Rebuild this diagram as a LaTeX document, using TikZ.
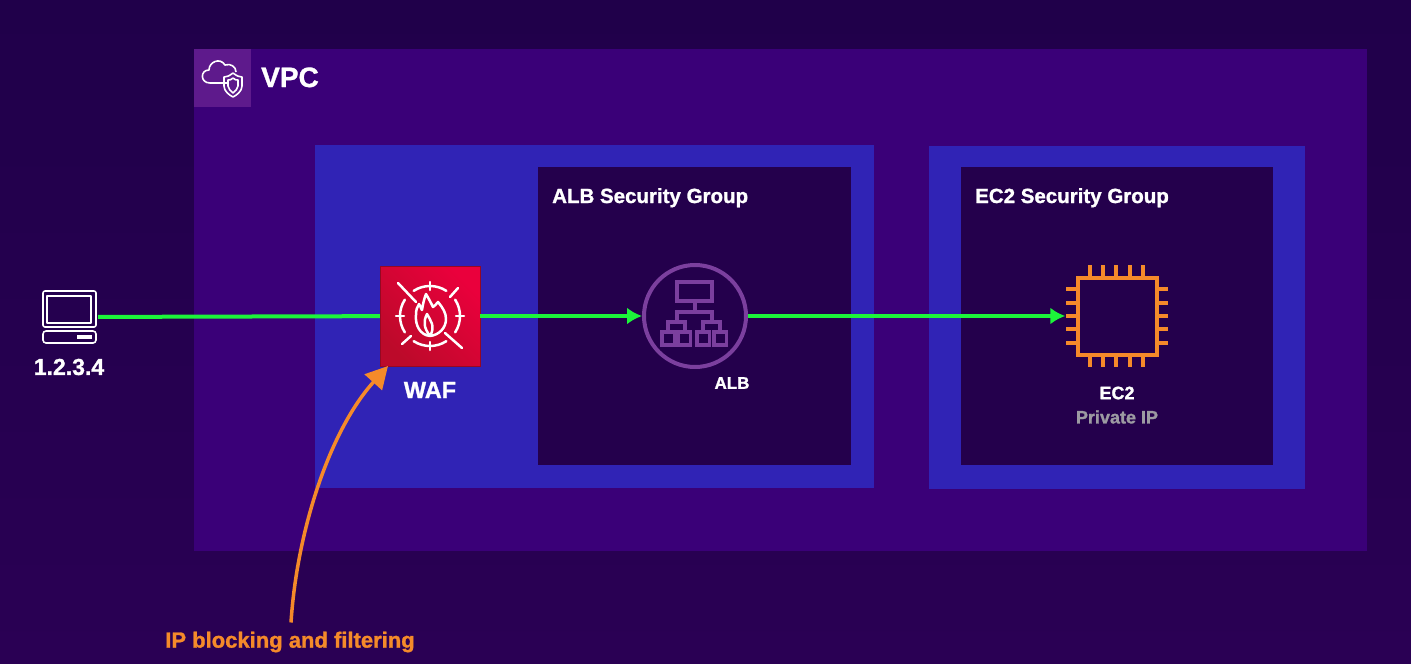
\documentclass[tikz,border=0pt]{standalone}
\usepackage{fontspec}
\setmainfont{Liberation Sans}[BoldFeatures={FakeBold=1.2}]
\usetikzlibrary{arrows.meta}
\definecolor{bgtop}{HTML}{20004A}
\definecolor{bgbottom}{HTML}{2A0054}
\definecolor{vpcfill}{HTML}{3A0078}
\definecolor{vpcicon}{HTML}{5E1A8C}
\definecolor{subnetblue}{HTML}{3023B5}
\definecolor{sgfill}{HTML}{24004C}
\definecolor{linkgreen}{HTML}{1CF53A}
\definecolor{chiporange}{HTML}{F58A2A}
\definecolor{albpurple}{HTML}{7B3F9E}
\definecolor{privgrey}{HTML}{9C9AA2}
\definecolor{wafbright}{HTML}{EA003C}
\definecolor{wafdark}{HTML}{BC0A2A}
\tikzset{
  label/.style={text=white,font=\bfseries\fontsize{#1}{#1}\selectfont,inner sep=0pt},
  link/.style={draw=linkgreen,line width=4pt},
  linktip/.style={link,-{Latex[length=15pt,width=17pt]}},
  iconline/.style={draw=white,line width=2.5pt,line cap=round},
  thinline/.style={draw=white,line width=1.6pt,line join=round},
  albline/.style={draw=albpurple,line width=4pt},
  chipline/.style={draw=chiporange,line width=4pt},
}
\begin{document}
\begin{tikzpicture}[x=1pt,y=-1pt]
\useasboundingbox (0,0) rectangle (1411,664);
% background and boxes
\shade[top color=bgtop,bottom color=bgbottom] (0,0) rectangle (1411,664);
\fill[vpcfill] (194,49) rectangle (1367,551);
\fill[vpcicon] (194,49) rectangle (251,107);
\fill[subnetblue] (315,145) rectangle (874,488);
\fill[subnetblue] (929,146) rectangle (1305,489);
\fill[sgfill] (538,167) rectangle (851,465);
\fill[sgfill] (961,167) rectangle (1273,465);

% nodes
\node[minimum width=55pt,minimum height=52pt,inner sep=0pt] (client) at (70.5,317) {};
\node[circle,albline,minimum size=102pt,inner sep=0pt,outer sep=2pt] (alb) at (695,316) {};
\node[minimum size=103pt,inner sep=0pt] (ec2) at (1117,316) {};
\node[minimum size=100pt,inner sep=0pt,shade,top color=wafbright,bottom color=wafdark,shading angle=-45,draw=wafdark!80!black] (waf) at (430,316) {};
\coordinate (waftip) at (388,366);

% connectors
\draw[link] (client) -- (waf);
\draw[linktip] (waf.east) -- (alb.west);
\draw[linktip] (alb.east) -- (ec2.west);

% labels
\node[label=28,anchor=base west] (vpclabel) at (261,87) {VPC};
\node[label=20.5,anchor=base west] (alblabelsg) at (552,203) {ALB Security Group};
\node[label=20.5,anchor=base west] (ec2labelsg) at (975,203) {EC2 Security Group};
\node[label=23] (clientlabel) at (69,367) {1.2.3.4};
\node[label=23.5] (waflabel) at (430,390) {WAF};
\node[label=17] (alblabel) at (732,383) {ALB};
\node[label=18] (ec2label) at (1117,393) {EC2};
\node[label=18,text=privgrey] (privlabel) at (1117,417) {Private IP};
\node[label=22,text=chiporange] (blocklabel) at (290,642) {IP blocking and filtering};

% orange arrow
\draw[chiporange,line width=3.5pt,-{Triangle[length=22pt,width=23pt]}] (blocklabel.north) ++(1,-9)
  .. controls (297,530) and (330,430) .. (waftip);

% client icon
\draw[thinline,rounded corners=2pt] (43,291) rectangle (96,327);
\draw[thinline] (47,296) rectangle (91,323);
\draw[thinline,rounded corners=3pt] (43,331) rectangle (96,343);
\fill[white] (77,335) rectangle (92,339);

% waf icon
\foreach \a in {0,90,180,270} {
  \draw[iconline] ([shift={(waf.center)}]\a-33:30) arc[start angle=\a-33,end angle=\a+33,radius=30];
  \draw[iconline] ([shift={(waf.center)}]\a:26) -- ([shift={(waf.center)}]\a:34);
}
\draw[iconline] (398,283) -- (416,302);
\draw[iconline] (458,288) -- (450,297);
\draw[iconline] (411,336) -- (402,344);
\draw[iconline] (445,333) -- (462,348);
\draw[iconline,line join=round] (430,336) .. controls (420,335) and (415,325) .. (416,315)
  .. controls (416,310) and (417,307) .. (419,304)
  .. controls (421,307) and (421,309) .. (422,310)
  .. controls (423,304) and (424,299) .. (426,294)
  .. controls (429,299) and (431,303) .. (433,307)
  .. controls (435,306) and (436,304) .. (438,302)
  .. controls (443,308) and (446,313) .. (446,319)
  .. controls (446,328) and (439,335) .. (430,336)
  .. controls (424,328) and (423,322) .. (427,314)
  .. controls (430,320) and (436,326) .. (430,336);

% alb icon
\draw[albline] (677,282) rectangle (712,301);
\draw[albline] (695,301) -- (695,312);
\draw[albline] (677,322) -- (677,312) -- (712,312) -- (712,322);
\draw[albline] (668,332) -- (668,322) -- (685,322) -- (685,332);
\draw[albline] (703,332) -- (703,322) -- (720,322) -- (720,332);
\foreach \x in {662,678,697,714}
  \draw[albline,line width=3.5pt] (\x,332) rectangle (\x+12.5,345);

% ec2 icon
\draw[chipline] (1078,278) rectangle (1157,355);
\foreach \x in {1090,1103,1116,1130,1143}
  \draw[chipline] (\x,265) -- (\x,278) (\x,355) -- (\x,367);
\foreach \y in {289,303,316,329,343}
  \draw[chipline] (1066,\y) -- (1078,\y) (1157,\y) -- (1168,\y);

% vpc icon
\draw[thinline] (228,83) -- (210,83) .. controls (200,83) and (200,70) .. (209,70)
  .. controls (209,62) and (220,57) .. (225,65)
  .. controls (231,63) and (236,67) .. (236,72);
\draw[thinline] (233,73) .. controls (229,76) and (227,77) .. (224,77) -- (224,86)
  .. controls (224,91) and (229,95) .. (233,97)
  .. controls (237,95) and (242,91) .. (242,86) -- (242,77)
  .. controls (239,77) and (237,76) .. (233,73);
\draw[thinline] (233,78) .. controls (231,80) and (230,80) .. (228,80) -- (228,86)
  .. controls (228,89) and (231,91) .. (233,93)
  .. controls (235,91) and (238,89) .. (238,86) -- (238,80)
  .. controls (236,80) and (235,80) .. (233,78);
\end{tikzpicture}
\end{document}
